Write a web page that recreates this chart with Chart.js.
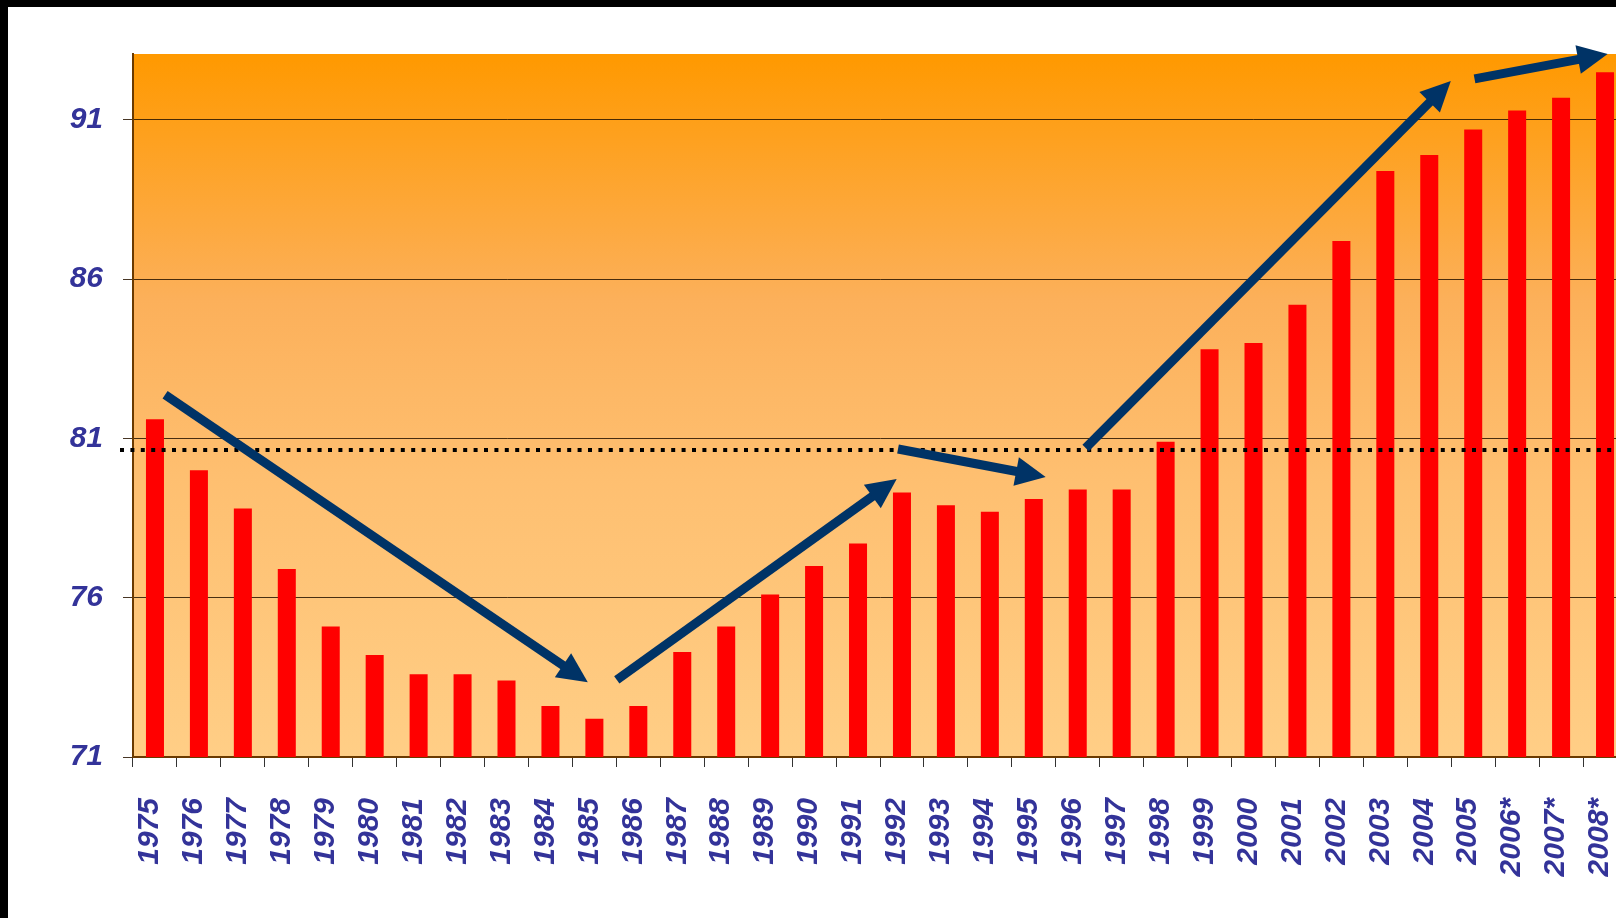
<!DOCTYPE html>
<html>
<head>
<meta charset="utf-8">
<title>Index 1975-2008</title>
<script src="https://cdn.jsdelivr.net/npm/chart.js@4"></script>
<style>
  html, body { margin: 0; padding: 0; background: #fff; overflow: hidden; }
  #wrap {
    position: absolute; left: 0; top: 0;
    border-top: 7px solid #000;
    border-left: 8px solid #000;
  }
  canvas { display: block; }
</style>
</head>
<body>
<div id="wrap"><canvas id="myChart" width="1619" height="911"></canvas></div>
<script>
// Years on the x axis (* = estimate)
const years = ['1975', '1976', '1977', '1978', '1979', '1980', '1981', '1982', '1983', '1984',
  '1985', '1986', '1987', '1988', '1989', '1990', '1991', '1992', '1993', '1994',
  '1995', '1996', '1997', '1998', '1999', '2000', '2001', '2002', '2003', '2004',
  '2005', '2006*', '2007*', '2008*'];

// Values
const values = [81.6, 80.0, 78.8, 76.9, 75.1, 74.2, 73.6, 73.6, 73.4, 72.6,
  72.2, 72.6, 74.3, 75.1, 76.1, 77.0, 77.7, 79.3, 78.9, 78.7,
  79.1, 79.4, 79.4, 80.9, 83.8, 84.0, 85.2, 87.2, 89.4, 89.9,
  90.7, 91.3, 91.7, 92.5];

const yTicks = [71, 76, 81, 86, 91];
const yMin = 71;
const yMax = 93.07;

// Average level (dotted line)
const averageLevel = 80.65;

// Trend arrows: [category index, value] from -> to
const arrowFrom = [[0.23, 82.37], [10.51, 73.42], [16.91, 80.67], [21.18, 80.70], [30.03, 92.29]];
const arrowTo = [[9.85, 73.35], [16.88, 79.73], [20.27, 79.79], [29.49, 92.22], [33.06, 93.07]];

const labelColor = '#333399';
const arrowColor = '#003366';

// gradient fill behind the plot
const backgroundPlugin = {
  id: 'plotBackground',
  beforeDraw(chart) {
    const { ctx, chartArea } = chart;
    const g = ctx.createLinearGradient(0, chartArea.top, 0, chartArea.bottom);
    g.addColorStop(0, '#FF9900');
    g.addColorStop(0.35, '#FCB05A');
    g.addColorStop(0.6, '#FEBF70');
    g.addColorStop(1, '#FFCE86');
    ctx.save();
    ctx.fillStyle = g;
    ctx.fillRect(chartArea.left, chartArea.top, chartArea.right - chartArea.left, chartArea.bottom - chartArea.top);
    ctx.restore();
  }
};

// dotted average line + arrows on top of the bars
const overlayPlugin = {
  id: 'overlay',
  afterDatasetsDraw(chart) {
    const { ctx, chartArea } = chart;
    const xs = chart.scales.x;
    const ys = chart.scales.y;

    ctx.save();
    const yAvg = Math.round(ys.getPixelForValue(averageLevel));
    ctx.strokeStyle = '#000';
    ctx.lineWidth = 4;
    ctx.setLineDash([4, 6.4]);
    ctx.beginPath();
    ctx.moveTo(chartArea.left - 13, yAvg);
    ctx.lineTo(chart.width, yAvg);
    ctx.stroke();
    ctx.setLineDash([]);

    ctx.strokeStyle = arrowColor;
    ctx.fillStyle = arrowColor;
    ctx.lineWidth = 9;
    ctx.lineCap = 'butt';
    for (let i = 0; i < arrowFrom.length; i++) {
      const x1 = xs.getPixelForValue(arrowFrom[i][0]);
      const y1 = ys.getPixelForValue(arrowFrom[i][1]);
      const x2 = xs.getPixelForValue(arrowTo[i][0]);
      const y2 = ys.getPixelForValue(arrowTo[i][1]);
      const len = Math.hypot(x2 - x1, y2 - y1);
      const ux = (x2 - x1) / len, uy = (y2 - y1) / len;
      const headLen = 30, headHalf = 14.5;
      const bx = x2 - ux * headLen, by = y2 - uy * headLen;
      ctx.beginPath();
      ctx.moveTo(x1, y1);
      ctx.lineTo(bx + ux * 2, by + uy * 2);
      ctx.stroke();
      ctx.beginPath();
      ctx.moveTo(x2, y2);
      ctx.lineTo(bx - uy * headHalf, by + ux * headHalf);
      ctx.lineTo(bx + uy * headHalf, by - ux * headHalf);
      ctx.closePath();
      ctx.fill();
    }
    ctx.restore();
  }
};

const ctx = document.getElementById('myChart');

const myChart = new Chart(ctx, {
  type: 'bar',
  data: {
    labels: years,
    datasets: [{
      data: values,
      backgroundColor: '#FF0000',
      borderWidth: 0,
      categoryPercentage: 1,
      barPercentage: 0.41
    }]
  },
  options: {
    responsive: false,
    animation: false,
    layout: { padding: { top: 47, left: 0, right: 0, bottom: 0 } },
    plugins: {
      legend: { display: false },
      tooltip: { enabled: false }
    },
    scales: {
      x: {
        offset: true,
        grid: {
          offset: true,
          drawOnChartArea: false,
          drawTicks: true,
          tickLength: 10,
          color: '#333'
        },
        border: { display: true, color: '#6B3A00', width: 2 },
        ticks: {
          autoSkip: false,
          minRotation: 90,
          maxRotation: 90,
          padding: 31,
          labelOffset: -5,
          color: labelColor,
          font: { family: '"Liberation Sans", Arial, sans-serif', size: 30, weight: 'bold', style: 'italic' }
        },
        afterFit(scale) {
          scale.height = 161;
          // the plot runs off the right edge, no room kept for the last label
          scale.paddingLeft = 0;
          scale.paddingRight = 0;
        }
      },
      y: {
        min: yMin,
        max: yMax,
        grid: {
          color: 'rgba(40,20,0,0.85)',
          lineWidth: 1,
          tickLength: 10
        },
        border: { display: true, color: '#6B3A00', width: 2 },
        ticks: {
          padding: 20,
          color: labelColor,
          font: { family: '"Liberation Sans", Arial, sans-serif', size: 30, weight: 'bold', style: 'italic' }
        },
        afterBuildTicks(scale) {
          scale.ticks = yTicks.map(v => ({ value: v }));
        },
        afterFit(scale) {
          scale.width = 125;
          scale.paddingTop = 0;
          scale.paddingBottom = 0;
        }
      }
    }
  },
  plugins: [backgroundPlugin, overlayPlugin]
});
</script>
</body>
</html>
